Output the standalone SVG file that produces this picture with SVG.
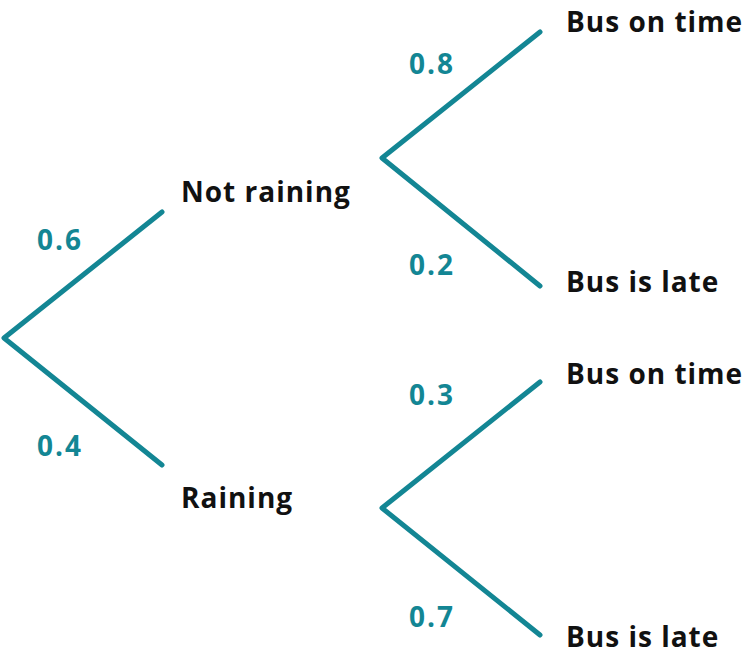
<svg xmlns="http://www.w3.org/2000/svg" width="743" height="658" viewBox="0 0 743 658">
<style>
.br{fill:none;stroke:#138694;stroke-width:5;stroke-linecap:round;stroke-linejoin:round}
.lbl{font-family:"Open Sans","Liberation Sans",sans-serif;font-weight:700;font-size:28px;letter-spacing:1px;fill:#111111}
.p{font-family:"Open Sans","Liberation Sans",sans-serif;font-weight:700;font-size:28px;letter-spacing:2px;fill:#138694}
</style>
<rect width="743" height="658" fill="#ffffff"/>
<g id="connectors">
<polyline class="br" points="162,212 4,338 162,465"/>
<polyline class="br" points="540,32 382,158 540,286"/>
<polyline class="br" points="540,382 382,508 540,635"/>
</g>
<g id="probs">
<text class="p" x="37" y="250">0.6</text>
<text class="p" x="37" y="456">0.4</text>
<text class="p" x="409" y="74">0.8</text>
<text class="p" x="409" y="275">0.2</text>
<text class="p" x="409" y="405">0.3</text>
<text class="p" x="409" y="627">0.7</text>
</g>
<g id="node-not-raining"><text class="lbl" x="181" y="202">Not raining</text></g>
<g id="node-raining"><text class="lbl" x="181" y="508">Raining</text></g>
<g id="node-nr-ontime"><text class="lbl" x="566" y="32">Bus on time</text></g>
<g id="node-nr-late"><text class="lbl" x="566" y="292">Bus is late</text></g>
<g id="node-r-ontime"><text class="lbl" x="566" y="384">Bus on time</text></g>
<g id="node-r-late"><text class="lbl" x="566" y="647">Bus is late</text></g>
</svg>
